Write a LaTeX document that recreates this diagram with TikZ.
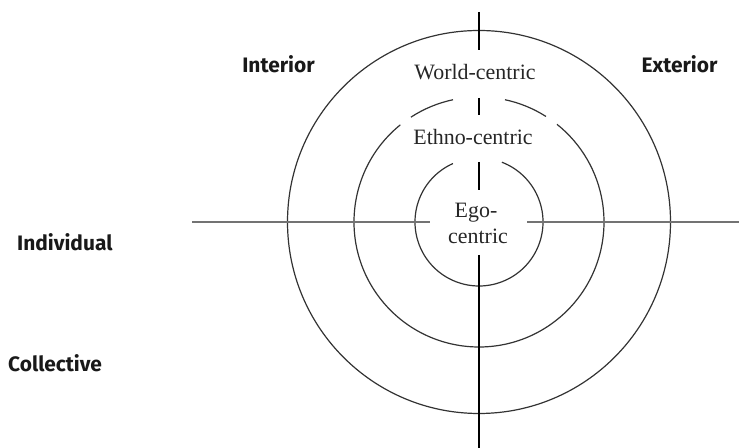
\documentclass[tikz,border=0pt]{standalone}
\usepackage{fontspec}
\setmainfont{Liberation Serif}
\newfontfamily\labelfont{Fira Sans}
\begin{document}
\begin{tikzpicture}[x=1bp,y=1bp,
  ring/.style={draw=black!80,line width=1.2bp},
  axisv/.style={draw=black,line width=1.3bp},
  axish/.style={draw=black!55,line width=1.8bp},
  serif/.style={font=\fontsize{22}{26}\selectfont,text=black!85,inner sep=0pt,anchor=base},
  quad/.style={font=\labelfont\bfseries\fontsize{21}{25}\selectfont,text=black!90,inner sep=0pt,anchor=base}]
\useasboundingbox (0,0) rectangle (739,448);
\coordinate (c) at (479,226);
% circles
\draw[ring] (c) circle[radius=191.5];
\draw[ring] ([shift={(57.6:125)}]c) arc[start angle=57.6,end angle=78,radius=125];
\draw[ring] ([shift={(102:125)}]c) arc[start angle=102,end angle=123,radius=125];
\draw[ring] ([shift={(129:125)}]c) arc[start angle=129,end angle=411.4,radius=125];
\draw[ring] ([shift={(114:64)}]c) arc[start angle=114,end angle=429,radius=64];
% axes
\coordinate (v1a) at (479,436); \coordinate (v1b) at (479,398);
\coordinate (v2a) at (479,350); \coordinate (v2b) at (479,333);
\coordinate (v3a) at (479,286); \coordinate (v3b) at (479,258);
\coordinate (v4a) at (479,193); \coordinate (v4b) at (479,0);
\coordinate (hla) at (192,226); \coordinate (hlb) at (430,226);
\coordinate (hra) at (527,226); \coordinate (hrb) at (739,226);
\draw[axisv] (v1a) -- (v1b);
\draw[axisv] (v2a) -- (v2b);
\draw[axisv] (v3a) -- (v3b);
\draw[axisv] (v4a) -- (v4b);
\draw[axish] (hla) -- (hlb);
\draw[axish] (hra) -- (hrb);
% texts
\node[serif] (world) at (475,368) {World-centric};
\node[serif] (ethno) at (473,303) {Ethno-centric};
\node[serif] (ego) at (476,230) {Ego-};
\node[serif] (centric) at (478,204) {centric};
\node[quad] (interior) at (278.5,375) {Interior};
\node[quad] (exterior) at (679.5,375) {Exterior};
\node[quad,anchor=base west] (individual) at (17,197) {Individual};
\node[quad,anchor=base west] (collective) at (8,76) {Collective};
\end{tikzpicture}
\end{document}
